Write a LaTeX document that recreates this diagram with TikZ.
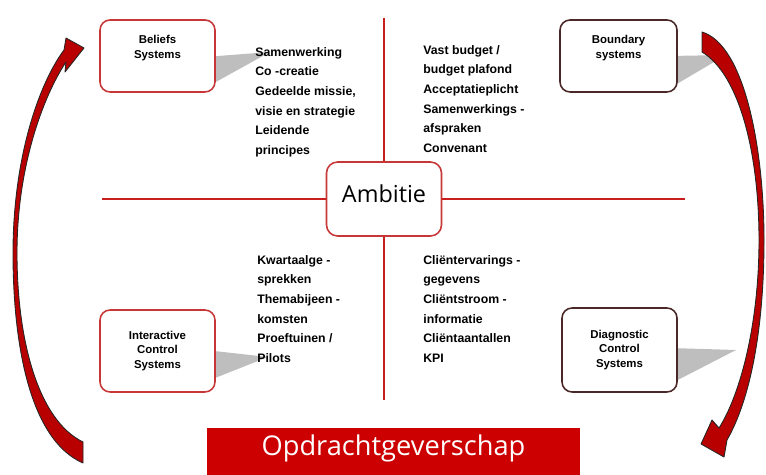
\documentclass[tikz,border=0pt]{standalone}
\usepackage{fontspec}
\setmainfont{Liberation Sans}
\newfontfamily\headfont{Open Sans}
\usepackage{tikz}
\usetikzlibrary{positioning}

\definecolor{boxred}{RGB}{200,55,55}
\definecolor{boxdark}{RGB}{75,40,40}
\definecolor{linered}{RGB}{200,30,30}
\definecolor{bannerred}{RGB}{204,0,0}
\definecolor{arrowred}{RGB}{185,0,0}
\definecolor{wedgegray}{RGB}{190,190,190}

\begin{document}
\begin{tikzpicture}[
        x=0.02cm, y=-0.02cm,
        sysbox/.style={
            rectangle, rounded corners=0.2cm, line width=0.9pt, fill=white,
            align=center, inner sep=0pt, font=\bfseries\fontsize{6.5}{8.5}\selectfont
        },
        redsys/.style={sysbox, draw=boxred},
        darksys/.style={sysbox, draw=boxdark},
        toplbl/.style={anchor=north, align=center, inner sep=0pt, yshift=-0.32cm,
            font=\bfseries\fontsize{6.5}{8.5}\selectfont},
        note/.style={anchor=north west, inner sep=0pt, align=left,
            font=\bfseries\fontsize{7}{11.2}\selectfont},
        wedge/.style={fill=wedgegray, draw=none},
        axis/.style={draw=linered, line width=1pt},
        bigarrow/.style={fill=arrowred, draw=black!85, line width=0.5pt, line join=round}
    ]
        \useasboundingbox (0,0) rectangle (766,475);

        % Callout wedges
        \fill[wedge] (205,57) -- (270,52) -- (205,88) -- cycle;
        \fill[wedge] (670,56) -- (726,55) -- (670,88) -- cycle;
        \fill[wedge] (205,350) -- (268,357) -- (205,382) -- cycle;
        \fill[wedge] (670,348) -- (736,350) -- (670,384) -- cycle;

        % Centre
        \node (amb) [draw=boxred, fill=white, line width=0.9pt, rounded corners=0.22cm,
            minimum width=2.3cm, minimum height=1.48cm, inner sep=0pt, text depth=0.22cm,
            font=\headfont\fontsize{13.3}{15}\selectfont] at (384,199) {Ambitie};
        \coordinate (vt) at (384,18);
        \coordinate (vb) at (384,400);
        \coordinate (hl) at (102,199);
        \coordinate (hr) at (685,199);
        \draw[axis] (vt) -- (amb);
        \draw[axis] (amb) -- (vb);
        \draw[axis] (hl) -- (amb);
        \draw[axis] (amb) -- (hr);

        % Control systems
        \node (bel) [redsys, minimum width=2.3cm, minimum height=1.44cm,
            label={[toplbl, name=belname]north:Beliefs\\Systems}] at (157.5,56) {};
        \node (bnd) [darksys, minimum width=2.34cm, minimum height=1.44cm,
            label={[toplbl, name=bndname]north:Boundary\\systems}] at (618.5,56) {};
        \node (int) [redsys, minimum width=2.3cm, minimum height=1.64cm]
            at (157.5,351) {Interactive\\Control\\Systems};
        \node (dia) [darksys, minimum width=2.3cm, minimum height=1.68cm]
            at (619.5,350) {Diagnostic\\Control\\Systems};

        % Lists
        \node (belt) [note] at (255,47) {Samenwerking\\Co -creatie\\Gedeelde missie,\\visie en strategie\\Leidende\\principes};
        \node (bndt) [note] at (423,45) {Vast budget /\\budget plafond\\Acceptatieplicht\\Samenwerkings -\\afspraken\\Convenant};
        \node (intt) [note] at (257,255) {Kwartaalge -\\sprekken\\Themabijeen -\\komsten\\Proeftuinen /\\Pilots};
        \node (diat) [note] at (423,255) {Cliëntervarings -\\gegevens\\Cliëntstroom -\\informatie\\Cliëntaantallen\\KPI};

        % Banner
        \node (opd) [fill=bannerred, text=white, minimum width=7.46cm, minimum height=0.94cm,
            inner sep=0pt, text depth=0.25cm, font=\headfont\fontsize{15.5}{18}\selectfont]
            at (393.5,451.5) {Opdrachtgeverschap};

        % Cycle arrows
        \draw[bigarrow] (83,463) .. controls (30,440) and (13,345) .. (13,253)
            .. controls (13,160) and (38,85) .. (64,50)
            -- (66,38) -- (84,48) -- (65,72) -- (66,62)
            .. controls (44,95) and (17,165) .. (17,253)
            .. controls (17,340) and (38,420) .. (83,442) -- cycle;
        \draw[bigarrow] (702,32) .. controls (745,45) and (764,150) .. (764,240)
            .. controls (764,330) and (750,400) .. (727,440)
            -- (724,457) -- (701,444) -- (712,420) -- (719,428)
            .. controls (740,395) and (759,325) .. (759,240)
            .. controls (759,155) and (740,75) .. (702,52) -- cycle;

    \end{tikzpicture}
\end{document}
